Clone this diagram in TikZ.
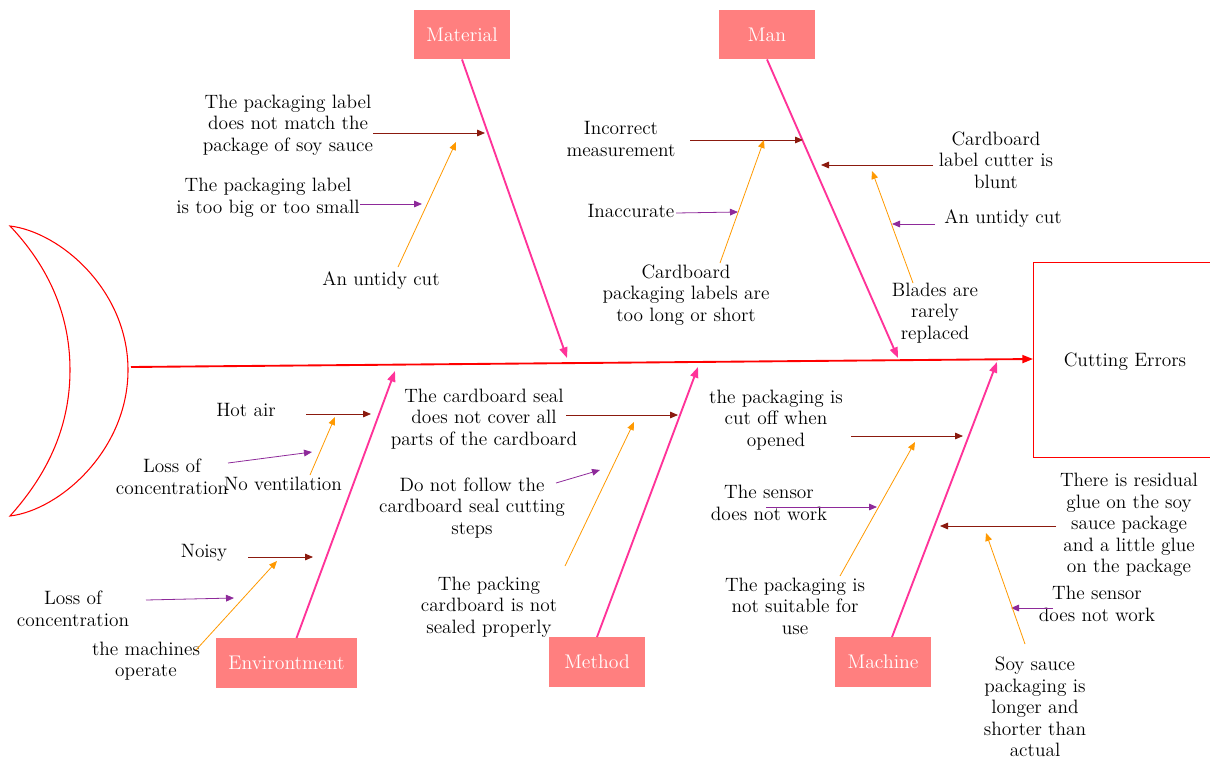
\documentclass[tikz,border=0pt]{standalone}
\usetikzlibrary{arrows.meta}
\definecolor{boxfill}{HTML}{FF7F7F}
\definecolor{bonepink}{HTML}{FF3399}
\definecolor{spinered}{HTML}{FF0000}
\definecolor{dred}{HTML}{8B1A0E}
\definecolor{dpurple}{HTML}{8E2A9A}
\definecolor{dorange}{HTML}{FF9900}
\begin{document}
\begin{tikzpicture}[x=0.75pt,y=-0.75pt,
  catbox/.style={fill=boxfill,text=white,minimum width=72pt,minimum height=37pt,inner sep=0pt,font=\fontsize{14.8}{16.2}\selectfont},
  lbl/.style={align=center,inner sep=0pt,font=\fontsize{14.5}{16.2}\selectfont},
  bone/.style={bonepink,line width=1.4pt,-{Triangle[length=8pt,width=6pt]}},
  sub/.style={line width=0.6pt,-{Triangle[length=6pt,width=5pt]}},
  subred/.style={sub,dred},
  subpurple/.style={sub,dpurple},
  suborange/.style={sub,dorange}]
\useasboundingbox (0,0) rectangle (1210,760);
% head
\node[draw=spinered,line width=0.8pt,minimum width=190pt,minimum height=146pt,inner sep=0pt,anchor=north west] (head) at (1033,262) {};
\node[lbl] (headtxt) at (1125,362) {Cutting Errors};
% tail
\draw[spinered,line width=0.8pt] (10,226) .. controls (60,232) and (128,290) .. (128,370) .. controls (128,450) and (60,510) .. (10,516)
  .. controls (45,477) and (70,430) .. (70,370) .. controls (70,310) and (45,263) .. cycle;
\coordinate (spinestart) at (131,367);
\coordinate (spineend) at (1033,359);
\draw[spinered,line width=1.4pt,-{Triangle[length=8pt,width=6pt]}] (spinestart) -- (spineend);
% category boxes
\node[catbox,minimum width=72pt] (mat) at (462,34.5) {Material};
\node[catbox] (man) at (767,34.5) {Man};
\node[catbox,minimum width=106pt] (env) at (286.5,663) {Environtment};
\node[catbox] (met) at (597,662) {Method};
\node[catbox] (mac) at (883,662) {Machine};
% bone ends
\coordinate (matE) at (567,358);
\coordinate (manE) at (898,358);
\coordinate (envE) at (395,371);
\coordinate (metE) at (698,367);
\coordinate (macE) at (997,362);
\draw[bone] (mat.south) -- (matE);
\draw[bone] (man.south) -- (manE);
\draw[bone] (env.north) ++(10,0) coordinate (envS) -- (envE);
\draw[bone] (met.north) -- (metE);
\draw[bone] (mac.north) ++(9,0) coordinate (macS) -- (macE);
% ---------- Material ----------
\node[lbl] (m1) at (288,125) {The packaging label\\does not match the\\package of soy sauce};
\coordinate (m1a) at (373,133); \coordinate (m1b) at (485,133);
\draw[subred] (m1a) -- (m1b);
\node[lbl] (m2) at (268,198) {The packaging label\\is too big or too small};
\coordinate (m2a) at (360,204); \coordinate (m2b) at (422,204);
\draw[subpurple] (m2a) -- (m2b);
\node[lbl] (m3) at (381,281) {An untidy cut};
\coordinate (m3a) at (398,267); \coordinate (m3b) at (456,142);
\draw[suborange] (m3a) -- (m3b);
% ---------- Man ----------
\node[lbl] (n1) at (621,139) {Incorrect\\measurement};
\coordinate (n1a) at (690,140); \coordinate (n1b) at (803,140);
\draw[subred] (n1a) -- (n1b);
\node[lbl] (n2) at (631,211) {Inaccurate};
\coordinate (n2a) at (676,213); \coordinate (n2b) at (738,212);
\draw[subpurple] (n2a) -- (n2b);
\node[lbl] (n3) at (686,295) {Cardboard\\packaging labels are\\too long or short};
\coordinate (n3a) at (720,263); \coordinate (n3b) at (764,140);
\draw[suborange] (n3a) -- (n3b);
\node[lbl] (n4) at (996,160) {Cardboard\\label cutter is\\blunt};
\coordinate (n4a) at (933,165); \coordinate (n4b) at (821,165);
\draw[subred] (n4a) -- (n4b);
\node[lbl] (n5) at (1003,219) {An untidy cut};
\coordinate (n5a) at (935,224); \coordinate (n5b) at (892,224);
\draw[subpurple] (n5a) -- (n5b);
\node[lbl] (n6) at (935,313) {Blades are\\rarely\\replaced};
\coordinate (n6a) at (913,283); \coordinate (n6b) at (872,171);
\draw[suborange] (n6a) -- (n6b);
% ---------- Environment ----------
\node[lbl] (e1) at (246,410) {Hot air};
\coordinate (e1a) at (306,414); \coordinate (e1b) at (371,414);
\draw[subred] (e1a) -- (e1b);
\node[lbl] (e2) at (172,477) {Loss of\\concentration};
\coordinate (e2a) at (228,463); \coordinate (e2b) at (312,452);
\draw[subpurple] (e2a) -- (e2b);
\node[lbl] (e3) at (283,484) {No ventilation};
\coordinate (e3a) at (310,475); \coordinate (e3b) at (335,417);
\draw[suborange] (e3a) -- (e3b);
\node[lbl] (e4) at (204,553) {Noisy};
\coordinate (e4a) at (248,557); \coordinate (e4b) at (313,557);
\draw[subred] (e4a) -- (e4b);
\node[lbl] (e5) at (73,609) {Loss of\\concentration};
\coordinate (e5a) at (146,600); \coordinate (e5b) at (234,598);
\draw[subpurple] (e5a) -- (e5b);
\node[lbl] (e6) at (146,661) {the machines\\operate};
\coordinate (e6a) at (196,650); \coordinate (e6b) at (277,561);
\draw[suborange] (e6a) -- (e6b);
% ---------- Method ----------
\node[lbl] (t1) at (484,419) {The cardboard seal\\does not cover all\\parts of the cardboard};
\coordinate (t1a) at (566,415); \coordinate (t1b) at (678,415);
\draw[subred] (t1a) -- (t1b);
\node[lbl] (t2) at (472,508) {Do not follow the\\cardboard seal cutting\\steps};
\coordinate (t2a) at (556,483); \coordinate (t2b) at (600,470);
\draw[subpurple] (t2a) -- (t2b);
\node[lbl] (t3) at (489,607) {The packing\\cardboard is not\\sealed properly};
\coordinate (t3a) at (565,566); \coordinate (t3b) at (634,422);
\draw[suborange] (t3a) -- (t3b);
% ---------- Machine ----------
\node[lbl] (c1) at (776,420) {the packaging is\\cut off when\\opened};
\coordinate (c1a) at (851,436); \coordinate (c1b) at (963,436);
\draw[subred] (c1a) -- (c1b);
\node[lbl] (c2) at (769,503) {The sensor\\does not work};
\coordinate (c2a) at (766,507); \coordinate (c2b) at (877,507);
\draw[subpurple] (c2a) -- (c2b);
\node[lbl] (c3) at (795,606) {The packaging is\\not suitable for\\use};
\coordinate (c3a) at (840,576); \coordinate (c3b) at (915,442);
\draw[suborange] (c3a) -- (c3b);
\node[lbl] (c4) at (1129,525) {There is residual\\glue on the soy\\sauce package\\and a little glue\\on the package};
\coordinate (c4a) at (1056,526); \coordinate (c4b) at (940,526);
\draw[subred] (c4a) -- (c4b);
\node[lbl] (c5) at (1097,604) {The sensor\\does not work};
\coordinate (c5a) at (1053,608); \coordinate (c5b) at (1011,608);
\draw[subpurple] (c5a) -- (c5b);
\node[lbl] (c6) at (1035,707) {Soy sauce\\packaging is\\longer and\\shorter than\\actual};
\coordinate (c6a) at (1025,644); \coordinate (c6b) at (986,533);
\draw[suborange] (c6a) -- (c6b);
\end{tikzpicture}
\end{document}
